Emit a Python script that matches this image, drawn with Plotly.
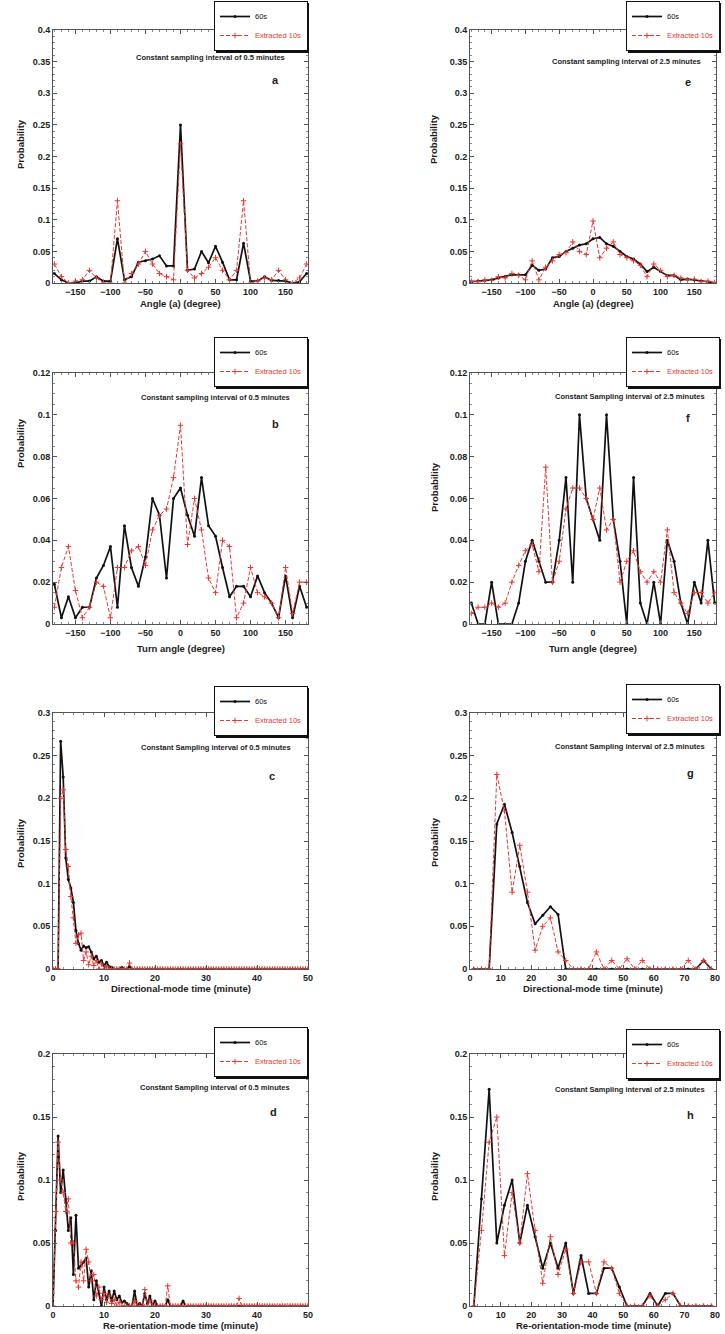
import plotly.graph_objects as go

# ---------------------------------------------------------------- sampling grids
angle_deg = list(range(-180, 181, 10))                 # 10-degree angular bins
time_half = [round(0.5 * i, 1) for i in range(101)]    # 0.5-minute bins, 0-50 min
time_25 = [1.25 + 2.5 * i for i in range(32)]          # 2.5-minute bin centres

# ---------------------------------------------------------------- (a) angle, 0.5 min
a_60s = [0.015, 0.005, 0.0, 0.0, 0.003, 0.003, 0.010, 0.003, 0.003, 0.070,
         0.005, 0.010, 0.033, 0.035, 0.038, 0.043, 0.027, 0.027, 0.250,
         0.020, 0.022, 0.050, 0.032, 0.058, 0.033, 0.005, 0.005, 0.063,
         0.003, 0.003, 0.010, 0.004, 0.004, 0.003, 0.0, 0.002, 0.015]
a_10s = [0.030, 0.010, 0.0, 0.003, 0.005, 0.020, 0.008, 0.0, 0.0, 0.130,
         0.0, 0.015, 0.030, 0.050, 0.030, 0.015, 0.010, 0.005, 0.220,
         0.020, 0.008, 0.015, 0.025, 0.040, 0.020, 0.005, 0.020, 0.130,
         0.0, 0.003, 0.008, 0.005, 0.020, 0.005, 0.0, 0.008, 0.030]

# ---------------------------------------------------------------- (e) angle, 2.5 min
e_60s = [0.002, 0.003, 0.004, 0.005, 0.008, 0.010, 0.013, 0.013, 0.013, 0.028,
         0.020, 0.022, 0.040, 0.042, 0.050, 0.055, 0.060, 0.062, 0.070,
         0.072, 0.062, 0.058, 0.050, 0.042, 0.038, 0.030, 0.018, 0.025,
         0.018, 0.012, 0.012, 0.005, 0.006, 0.005, 0.003, 0.002, 0.0]
e_10s = [0.003, 0.002, 0.005, 0.004, 0.010, 0.008, 0.015, 0.012, 0.005, 0.035,
         0.005, 0.025, 0.035, 0.045, 0.048, 0.065, 0.050, 0.045, 0.098,
         0.040, 0.055, 0.065, 0.045, 0.040, 0.035, 0.028, 0.010, 0.030,
         0.020, 0.010, 0.012, 0.008, 0.005, 0.006, 0.002, 0.003, 0.001]

# ---------------------------------------------------------------- (b) turn angle, 0.5 min
b_60s = [0.019, 0.003, 0.013, 0.003, 0.008, 0.008, 0.022, 0.028, 0.037, 0.008,
         0.047, 0.027, 0.018, 0.032, 0.060, 0.052, 0.022, 0.060, 0.065,
         0.052, 0.042, 0.070, 0.047, 0.042, 0.027, 0.013, 0.018, 0.018,
         0.013, 0.023, 0.015, 0.010, 0.003, 0.023, 0.003, 0.018, 0.008]
b_10s = [0.008, 0.027, 0.037, 0.016, 0.003, 0.008, 0.020, 0.018, 0.003, 0.027,
         0.027, 0.035, 0.037, 0.028, 0.045, 0.052, 0.055, 0.070, 0.095,
         0.038, 0.060, 0.045, 0.022, 0.015, 0.040, 0.037, 0.003, 0.010,
         0.027, 0.015, 0.013, 0.010, 0.003, 0.027, 0.005, 0.020, 0.020]

# ---------------------------------------------------------------- (f) turn angle, 2.5 min
f_60s = [0.010, 0.0, 0.0, 0.020, 0.0, 0.0, 0.0, 0.010, 0.030, 0.040,
         0.030, 0.020, 0.020, 0.040, 0.070, 0.020, 0.100, 0.060, 0.050,
         0.040, 0.100, 0.050, 0.030, 0.0, 0.070, 0.010, 0.0, 0.020,
         0.0, 0.040, 0.030, 0.010, 0.0, 0.020, 0.010, 0.040, 0.010]
f_10s = [0.005, 0.008, 0.008, 0.010, 0.008, 0.010, 0.020, 0.028, 0.035, 0.038,
         0.025, 0.075, 0.020, 0.030, 0.055, 0.065, 0.065, 0.060, 0.050,
         0.065, 0.045, 0.050, 0.020, 0.030, 0.035, 0.025, 0.020, 0.025,
         0.020, 0.045, 0.015, 0.010, 0.005, 0.015, 0.015, 0.010, 0.015]

# ---------------------------------------------------------------- (c) directional-mode time, 0.5 min
c_60s = [0.0, 0.0, 0.0, 0.267, 0.225, 0.130, 0.105, 0.095, 0.078, 0.045,
         0.030, 0.022, 0.027, 0.025, 0.026, 0.020, 0.012, 0.015, 0.008, 0.010,
         0.004, 0.008, 0.003, 0.002, 0.0, 0.0, 0.0, 0.002, 0.0, 0.0,
         0.003, 0.0, 0.0, 0.0, 0.0, 0.0, 0.0, 0.0, 0.0, 0.0,
         0.0, 0.0, 0.0, 0.0, 0.0, 0.0, 0.0, 0.0, 0.0, 0.0,
         0.0, 0.0, 0.0, 0.0, 0.0, 0.0, 0.0, 0.0, 0.0, 0.0,
         0.0, 0.0, 0.0, 0.0, 0.0, 0.0, 0.0, 0.0, 0.0, 0.0,
         0.0, 0.0, 0.0, 0.0, 0.0, 0.0, 0.0, 0.0, 0.0, 0.0,
         0.0, 0.0, 0.0, 0.0, 0.0, 0.0, 0.0, 0.0, 0.0, 0.0,
         0.0, 0.0, 0.0, 0.0, 0.0, 0.0, 0.0, 0.0, 0.0, 0.0,
         0.0]
c_10s = [0.0, 0.0, 0.0, 0.200, 0.210, 0.140, 0.120, 0.085, 0.060, 0.030,
         0.040, 0.042, 0.010, 0.020, 0.005, 0.015, 0.004, 0.010, 0.0, 0.006,
         0.0, 0.003, 0.0, 0.0, 0.0, 0.0, 0.0, 0.0, 0.0, 0.0,
         0.007, 0.0, 0.0, 0.0, 0.0, 0.0, 0.0, 0.0, 0.0, 0.0,
         0.0, 0.0, 0.0, 0.0, 0.0, 0.0, 0.0, 0.0, 0.0, 0.0,
         0.0, 0.0, 0.0, 0.0, 0.0, 0.0, 0.0, 0.0, 0.0, 0.0,
         0.0, 0.0, 0.0, 0.0, 0.0, 0.0, 0.0, 0.0, 0.0, 0.0,
         0.0, 0.0, 0.0, 0.0, 0.0, 0.0, 0.0, 0.0, 0.0, 0.0,
         0.0, 0.0, 0.0, 0.0, 0.0, 0.0, 0.0, 0.0, 0.0, 0.0,
         0.0, 0.0, 0.0, 0.0, 0.0, 0.0, 0.0, 0.0, 0.0, 0.0,
         0.0]

# ---------------------------------------------------------------- (g) directional-mode time, 2.5 min
g_60s = [0.0, 0.0, 0.0, 0.170, 0.193, 0.160, 0.120, 0.078, 0.053, 0.063,
         0.073, 0.064, 0.0, 0.0, 0.0, 0.0, 0.0, 0.0, 0.0, 0.0,
         0.0, 0.0, 0.0, 0.0, 0.0, 0.0, 0.0, 0.0, 0.0, 0.0,
         0.010, 0.0]
g_10s = [0.0, 0.0, 0.0, 0.228, 0.185, 0.090, 0.145, 0.090, 0.022, 0.050,
         0.060, 0.020, 0.010, 0.0, 0.0, 0.0, 0.020, 0.0, 0.010, 0.0,
         0.012, 0.0, 0.010, 0.0, 0.0, 0.0, 0.0, 0.0, 0.010, 0.0,
         0.010, 0.0]

# ---------------------------------------------------------------- (d) re-orientation-mode time, 0.5 min
d_60s = [0.0, 0.060, 0.135, 0.090, 0.108, 0.085, 0.060, 0.070, 0.025, 0.072,
         0.030, 0.032, 0.035, 0.038, 0.015, 0.028, 0.005, 0.020, 0.010, 0.0,
         0.015, 0.005, 0.012, 0.004, 0.012, 0.005, 0.008, 0.003, 0.004, 0.002,
         0.0, 0.0, 0.012, 0.0, 0.002, 0.0, 0.010, 0.002, 0.008, 0.0,
         0.004, 0.0, 0.0, 0.0, 0.0, 0.005, 0.0, 0.0, 0.0, 0.0,
         0.0, 0.004, 0.0, 0.0, 0.0, 0.0, 0.0, 0.0, 0.0, 0.0,
         0.0, 0.0, 0.0, 0.0, 0.0, 0.0, 0.0, 0.0, 0.0, 0.0,
         0.0, 0.0, 0.0, 0.0, 0.0, 0.0, 0.0, 0.0, 0.0, 0.0,
         0.0, 0.0, 0.0, 0.0, 0.0, 0.0, 0.0, 0.0, 0.0, 0.0,
         0.0, 0.0, 0.0, 0.0, 0.0, 0.0, 0.0, 0.0, 0.0, 0.0,
         0.0]
d_10s = [0.0, 0.075, 0.130, 0.100, 0.090, 0.075, 0.085, 0.050, 0.050, 0.020,
         0.015, 0.035, 0.020, 0.045, 0.035, 0.020, 0.025, 0.008, 0.015, 0.005,
         0.010, 0.003, 0.008, 0.002, 0.005, 0.0, 0.003, 0.0, 0.0, 0.0,
         0.0, 0.0, 0.004, 0.0, 0.0, 0.0, 0.013, 0.0, 0.004, 0.0,
         0.0, 0.0, 0.0, 0.0, 0.0, 0.016, 0.0, 0.0, 0.0, 0.0,
         0.0, 0.0, 0.0, 0.0, 0.0, 0.0, 0.0, 0.0, 0.0, 0.0,
         0.0, 0.0, 0.0, 0.0, 0.0, 0.0, 0.0, 0.0, 0.0, 0.0,
         0.0, 0.0, 0.0, 0.006, 0.0, 0.0, 0.0, 0.0, 0.0, 0.0,
         0.0, 0.0, 0.0, 0.0, 0.0, 0.0, 0.0, 0.0, 0.0, 0.0,
         0.0, 0.0, 0.0, 0.0, 0.0, 0.0, 0.0, 0.0, 0.0, 0.0,
         0.0]

# ---------------------------------------------------------------- (h) re-orientation-mode time, 2.5 min
h_60s = [0.0, 0.085, 0.172, 0.050, 0.080, 0.100, 0.050, 0.080, 0.055, 0.030,
         0.050, 0.030, 0.050, 0.010, 0.040, 0.010, 0.010, 0.030, 0.030, 0.015,
         0.0, 0.0, 0.0, 0.010, 0.0, 0.010, 0.010, 0.0, 0.0, 0.0,
         0.0, 0.0]
h_10s = [0.0, 0.060, 0.130, 0.150, 0.040, 0.090, 0.050, 0.105, 0.060, 0.018,
         0.055, 0.025, 0.045, 0.010, 0.035, 0.035, 0.010, 0.035, 0.030, 0.010,
         0.0, 0.0, 0.0, 0.008, 0.0, 0.005, 0.010, 0.0, 0.0, 0.0,
         0.0, 0.0]

# ---------------------------------------------------------------- text
name_60s = "60s"
name_10s = "Extracted 10s"
note_05 = "Constant sampling interval of 0.5 minutes"
note_25 = "Constant sampling interval of 2.5 minutes"
note_05_cap = "Constant Sampling interval of 0.5 minutes"
note_25_cap = "Constant Sampling interval of 2.5 minutes"
title_angle = "Angle (a) (degree)"
title_turn = "Turn angle (degree)"
title_dir = "Directional-mode time (minute)"
title_reo = "Re-orientation-mode time (minute)"
title_prob = "Probability"

# ---------------------------------------------------------------- styling
W, H = 725, 1334
FONT = "Liberation Sans, Arial, Helvetica, sans-serif"
INK = "#1c1c1c"
BLACK = "#111111"
RED = "#e8382f"
AXIS = "#555555"

COLS = {"L": (53, 308), "R": (470, 716)}
ROWS = [(30, 283), (373, 624), (713, 969), (1054, 1306)]


def fx(px):
    return px / W


def fy(px):
    return 1 - px / H


panels = [
    dict(tag="a", col="L", row=0, x=angle_deg, y60=a_60s, y10=a_10s,
         xr=[-182, 182], yr=[0, 0.4], dx=50, mdx=10, dy=0.05, mdy=0.01,
         xtitle=title_angle, note=note_05,
         note_at=(210, 58), tag_at=(275, 80), ytitle_at=(20, 144), xtitle_y=304, legend_at=(214, 1)),
    dict(tag="e", col="R", row=0, x=angle_deg, y60=e_60s, y10=e_10s,
         xr=[-182, 182], yr=[0, 0.4], dx=50, mdx=10, dy=0.05, mdy=0.01,
         xtitle=title_angle, note=note_25,
         note_at=(626, 61), tag_at=(688, 82), ytitle_at=(434, 139), xtitle_y=304, legend_at=(626, 1)),
    dict(tag="b", col="L", row=1, x=angle_deg, y60=b_60s, y10=b_10s,
         xr=[-182, 182], yr=[0, 0.12], dx=50, mdx=10, dy=0.02, mdy=0.005,
         xtitle=title_turn, note=note_05,
         note_at=(215, 398), tag_at=(275, 424), ytitle_at=(20, 443), xtitle_y=648, legend_at=(214, 337)),
    dict(tag="f", col="R", row=1, x=angle_deg, y60=f_60s, y10=f_10s,
         xr=[-182, 182], yr=[0, 0.12], dx=50, mdx=10, dy=0.02, mdy=0.005,
         xtitle=title_turn, note=note_25_cap,
         note_at=(630, 396), tag_at=(688, 418), ytitle_at=(434, 487), xtitle_y=648, legend_at=(626, 337)),
    dict(tag="c", col="L", row=2, x=time_half, y60=c_60s, y10=c_10s,
         xr=[0, 50], yr=[0, 0.3], dx=10, mdx=2, dy=0.05, mdy=0.01,
         xtitle=title_dir, note=note_05_cap,
         note_at=(216, 747), tag_at=(272, 776), ytitle_at=(20, 843), xtitle_y=988, legend_at=(214, 686)),
    dict(tag="g", col="R", row=2, x=time_25, y60=g_60s, y10=g_10s,
         xr=[0, 80.3], yr=[0, 0.3], dx=10, mdx=2.5, dy=0.05, mdy=0.01,
         xtitle=title_dir, note=note_25_cap,
         note_at=(630, 746), tag_at=(690, 773), ytitle_at=(434, 842), xtitle_y=988, legend_at=(626, 684)),
    dict(tag="d", col="L", row=3, x=time_half, y60=d_60s, y10=d_10s,
         xr=[0, 50], yr=[0, 0.2], dx=10, mdx=2, dy=0.05, mdy=0.01,
         xtitle=title_reo, note=note_05_cap,
         note_at=(215, 1087), tag_at=(273, 1112), ytitle_at=(20, 1176), xtitle_y=1325, legend_at=(214, 1027)),
    dict(tag="h", col="R", row=3, x=time_25, y60=h_60s, y10=h_10s,
         xr=[0, 80.3], yr=[0, 0.2], dx=10, mdx=2.5, dy=0.05, mdy=0.01,
         xtitle=title_reo, note=note_25_cap,
         note_at=(630, 1089), tag_at=(690, 1115), ytitle_at=(434, 1176), xtitle_y=1325, legend_at=(626, 1029)),
]

LEGEND_W, LEGEND_H = 93, 50      # rendered size of each two-entry legend box
SHADOW = 2                       # drop-shadow offset of the legend box

fig = go.Figure()
layout = dict(
    width=W, height=H,
    margin=dict(l=0, r=0, t=0, b=0, autoexpand=False),
    paper_bgcolor="white", plot_bgcolor="white",
    font=dict(family=FONT, color=INK),
    annotations=[], shapes=[],
)

tick_font = dict(family=FONT, size=9, color=INK, weight="bold")

for i, p in enumerate(panels, start=1):
    sfx = "" if i == 1 else str(i)
    xa, ya = "x" + sfx, "y" + sfx
    leg = "legend" + sfx

    fig.add_trace(go.Scatter(
        x=p["x"], y=p["y60"], name=name_60s, mode="lines+markers",
        line=dict(color=BLACK, width=1.7),
        marker=dict(symbol="circle", size=3, color=BLACK),
        xaxis=xa, yaxis=ya, legend=leg, hoverinfo="skip",
    ))
    fig.add_trace(go.Scatter(
        x=p["x"], y=p["y10"],
        name=f"<span style='color:{RED}'>{name_10s}</span>",
        mode="lines+markers",
        line=dict(color=RED, width=1, dash="4px,2px"),
        marker=dict(symbol="cross-thin-open", size=4, color=RED,
                    line=dict(color=RED, width=1)),
        xaxis=xa, yaxis=ya, legend=leg, hoverinfo="skip",
    ))

    x0, x1 = COLS[p["col"]]
    top, bottom = ROWS[p["row"]]

    axis_style = dict(
        showline=True, linecolor=AXIS, linewidth=1, mirror="ticks",
        ticks="inside", ticklen=4, tickwidth=1, tickcolor=AXIS,
        showgrid=False, zeroline=False, tickfont=tick_font, fixedrange=True,
    )
    layout["xaxis" + sfx] = dict(
        axis_style, domain=[fx(x0), fx(x1)], range=p["xr"], dtick=p["dx"], tick0=0,
        anchor=ya, ticklabeloverflow="allow",
        minor=dict(ticks="inside", ticklen=2, tickwidth=1, tickcolor="#888888",
                   dtick=p["mdx"], tick0=0, showgrid=False),
    )
    layout["yaxis" + sfx] = dict(
        axis_style, domain=[fy(bottom), fy(top)], range=p["yr"], dtick=p["dy"], tick0=0,
        anchor=xa,
        minor=dict(ticks="inside", ticklen=2, tickwidth=1, tickcolor="#888888",
                   dtick=p["mdy"], tick0=0, showgrid=False),
    )

    lx, ly = p["legend_at"]
    layout[leg] = dict(
        x=fx(lx), y=fy(ly), xanchor="left", yanchor="top",
        bgcolor="white", bordercolor="#111111", borderwidth=1,
        font=dict(family=FONT, size=7.5, color=BLACK),
        itemwidth=30, tracegroupgap=0,
    )
    # drop shadow behind the legend box
    layout["shapes"].append(dict(
        type="rect", xref="paper", yref="paper", layer="above",
        x0=fx(lx + SHADOW), x1=fx(lx + LEGEND_W + SHADOW),
        y0=fy(ly + LEGEND_H + SHADOW), y1=fy(ly + SHADOW),
        fillcolor="#111111", line=dict(width=0),
    ))

    nx, ny = p["note_at"]
    tx, ty = p["tag_at"]
    yx, yy = p["ytitle_at"]
    cx = (x0 + x1) / 2
    layout["annotations"] += [
        dict(text=p["note"], x=fx(nx), y=fy(ny), xref="paper", yref="paper",
             xanchor="center", yanchor="middle", showarrow=False,
             font=dict(family=FONT, size=7.5, color=INK, weight="bold")),
        dict(text=p["tag"], x=fx(tx), y=fy(ty), xref="paper", yref="paper",
             xanchor="center", yanchor="middle", showarrow=False,
             font=dict(family=FONT, size=11, color=INK, weight="bold")),
        dict(text=title_prob, x=fx(yx), y=fy(yy), xref="paper", yref="paper",
             xanchor="center", yanchor="middle", showarrow=False, textangle=-90,
             font=dict(family=FONT, size=9.5, color=INK, weight="bold")),
        dict(text=p["xtitle"], x=fx(cx), y=fy(p["xtitle_y"]), xref="paper", yref="paper",
             xanchor="center", yanchor="middle", showarrow=False,
             font=dict(family=FONT, size=9.5, color=INK, weight="bold")),
    ]

fig.update_layout(**layout)
fig.write_html("out.html", config={"displayModeBar": False, "staticPlot": True})
